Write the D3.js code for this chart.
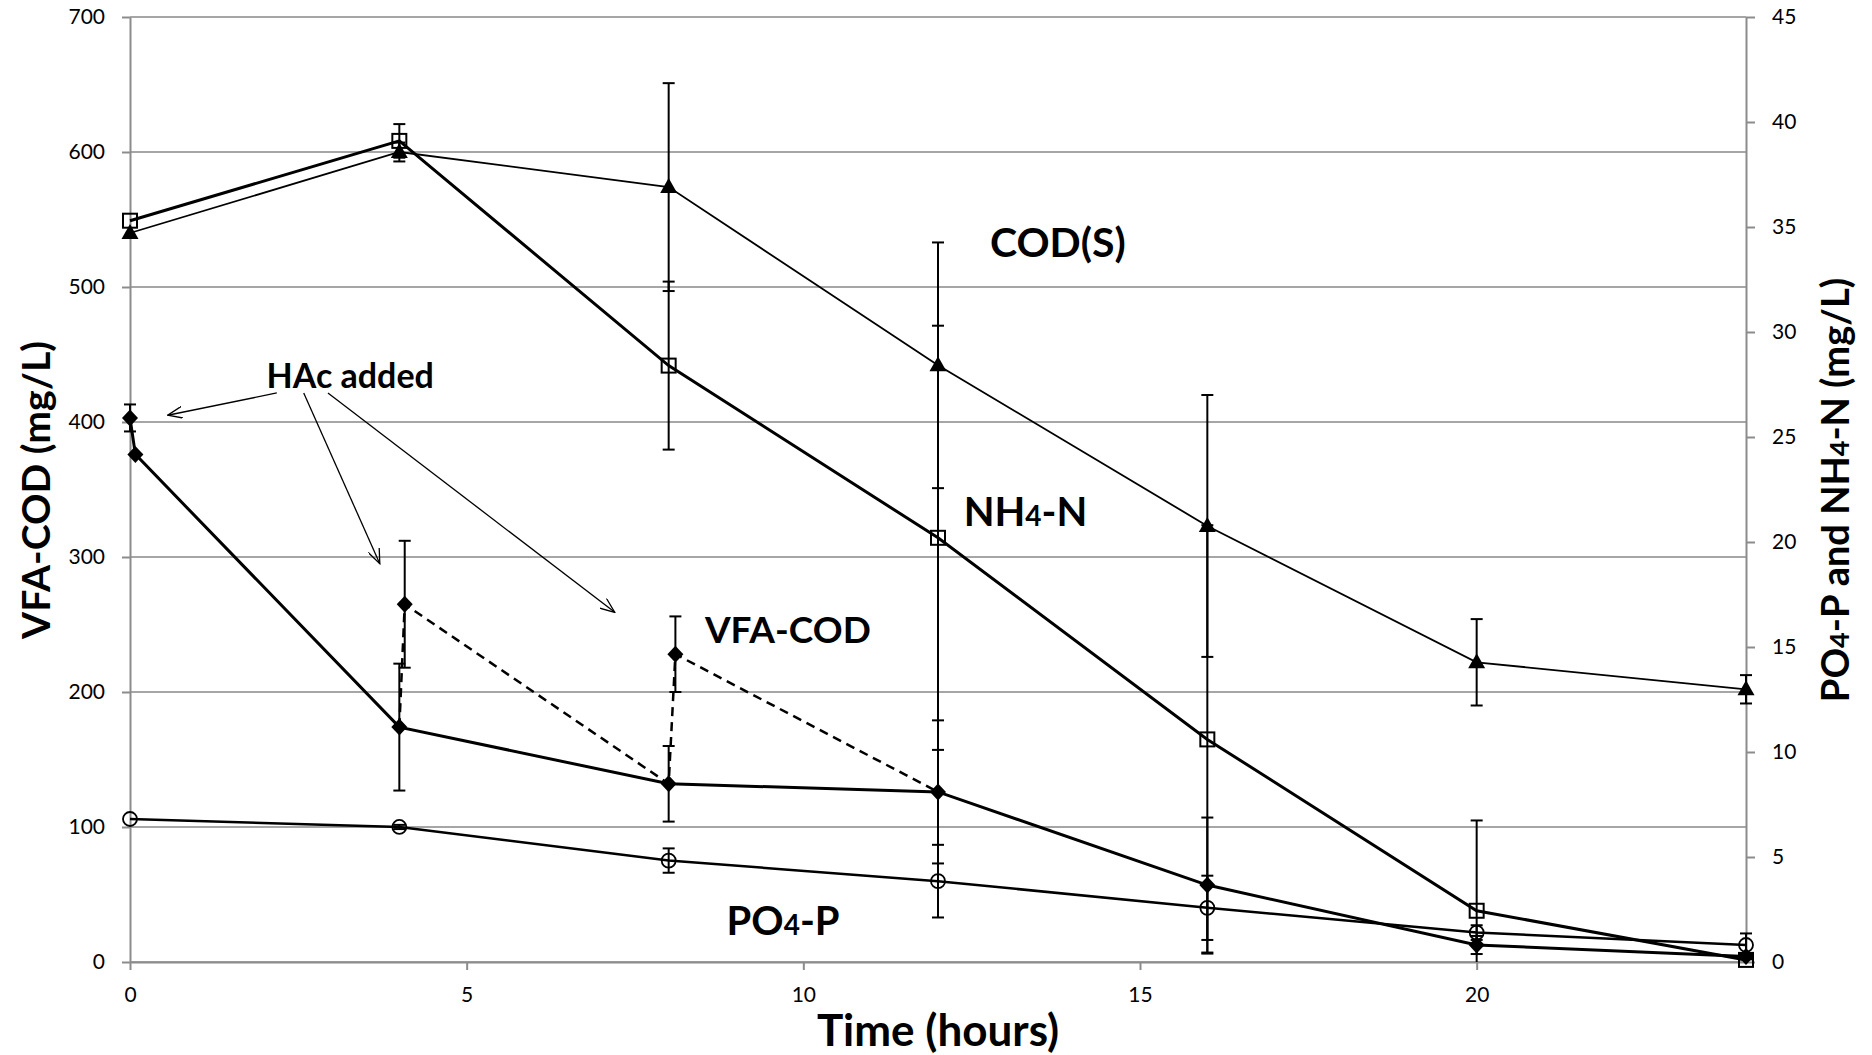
<!DOCTYPE html>
<html>
<head>
<meta charset="utf-8">
<script src="https://cdn.jsdelivr.net/npm/d3@7"></script>
<style>
  body { margin: 0; background: #fff; }
  .chart text { font-family: Lato, "Open Sans", sans-serif; fill: #000; }
  .axis path, .axis line { stroke: #8c8c8c; stroke-width: 2; }
  .axis text { font-size: 21px; }
  .grid line { stroke: #a6a6a6; stroke-width: 2; }
  .lbl { font-weight: bold; }
</style>
</head>
<body>
<div class="chart"></div>
<script>
// Time points (hours)
var hours = [0, 4, 8, 12, 16, 20, 24];

// COD(S), left axis (mg/L)
var codS = [540, 600, 574, 442, 323, 222, 202];
var codSErr = [0, 7, 77, 91, 97, 32, 10.5];

// NH4-N, right axis (mg/L)
var nh4 = [35.3, 39.1, 28.4, 20.2, 10.6, 2.44, 0.1];
var nh4Err = [0, 0.8, 4.0, 10.1, 10.2, 4.3, 0.1];

// PO4-P, right axis (mg/L)
var po4 = [6.81, 6.43, 4.83, 3.85, 2.58, 1.4, 0.81];
var po4Err = [0, 0.1, 0.58, 1.73, 1.53, 0.35, 0.55];

// VFA-COD, left axis (mg/L)
var vfaHours = [0, 0.08, 4, 8, 12, 16, 20, 24];
var vfa = [403, 376, 174, 132, 126, 57, 12.6, 4];
var vfaErr = [10, 0, 47, 28, 53, 50, 6.7, 2];

// VFA-COD right after HAc addition
var spikeHours = [4.08, 8.1];
var spikeVfa = [265, 228];
var spikeErr = [47, 28];

var leftTicks = [0, 100, 200, 300, 400, 500, 600, 700];
var rightTicks = [0, 5, 10, 15, 20, 25, 30, 35, 40, 45];
var xTicks = [0, 5, 10, 15, 20];

var svgWidth = 1872;
var svgHeight = 1055;
var margin = {top: 17, right: 126, bottom: 93, left: 130};
var width = svgWidth - margin.left - margin.right;
var height = svgHeight - margin.top - margin.bottom;

var svg = d3.select(".chart")
  .append("svg")
  .attr("width", svgWidth)
  .attr("height", svgHeight);

var chartGroup = svg.append("g")
  .attr("transform", `translate(${margin.left}, ${margin.top})`);

var x = d3.scaleLinear().domain([0, 24]).range([0, width]);
var yLeft = d3.scaleLinear().domain([0, 700]).range([height, 0]);
var yRight = d3.scaleLinear().domain([0, 45]).range([height, 0]);

// gridlines (left axis)
chartGroup.append("g")
  .attr("class", "grid")
  .selectAll("line")
  .data(leftTicks)
  .enter()
  .append("line")
  .attr("x1", 0)
  .attr("x2", width)
  .attr("y1", d => yLeft(d))
  .attr("y2", d => yLeft(d));

// axes
chartGroup.append("g")
  .attr("class", "axis")
  .call(d3.axisLeft(yLeft).tickValues(leftTicks).tickSize(8).tickSizeOuter(0).tickPadding(17));

chartGroup.append("g")
  .attr("class", "axis")
  .attr("transform", `translate(${width}, 0)`)
  .call(d3.axisRight(yRight).tickValues(rightTicks).tickSize(9).tickSizeOuter(0).tickPadding(17));

chartGroup.append("g")
  .attr("class", "axis")
  .attr("transform", `translate(0, ${height})`)
  .call(d3.axisBottom(x).tickValues(xTicks).tickSize(8).tickSizeOuter(0).tickPadding(17));

chartGroup.selectAll(".axis text").attr("fill", "#000");

// error bars
function errorBars(xs, ys, errs, yScale) {
  var g = chartGroup.append("g")
    .attr("stroke", "#000")
    .attr("stroke-width", 2);
  xs.forEach(function(t, i) {
    if (!errs[i]) return;
    var lo = Math.max(0, ys[i] - errs[i]);
    var hi = ys[i] + errs[i];
    var cx = x(t);
    g.append("line")
      .attr("x1", cx).attr("x2", cx)
      .attr("y1", yScale(lo)).attr("y2", yScale(hi));
    g.append("line")
      .attr("x1", cx - 6).attr("x2", cx + 6)
      .attr("y1", yScale(hi)).attr("y2", yScale(hi));
    if (lo > 0) {
      g.append("line")
        .attr("x1", cx - 6).attr("x2", cx + 6)
        .attr("y1", yScale(lo)).attr("y2", yScale(lo));
    }
  });
}

errorBars(hours, codS, codSErr, yLeft);
errorBars(hours, nh4, nh4Err, yRight);
errorBars(hours, po4, po4Err, yRight);
errorBars(vfaHours, vfa, vfaErr, yLeft);
errorBars(spikeHours, spikeVfa, spikeErr, yLeft);

// lines
function drawLine(xs, ys, yScale, w, dash) {
  var line = d3.line()
    .x(d => x(d[0]))
    .y(d => yScale(d[1]));
  chartGroup.append("path")
    .datum(xs.map((t, i) => [t, ys[i]]))
    .attr("fill", "none")
    .attr("stroke", "#000")
    .attr("stroke-width", w)
    .attr("stroke-dasharray", dash || null)
    .attr("d", line);
}

// dashed path: after each HAc addition
var dashHours = [vfaHours[2], spikeHours[0], vfaHours[3], spikeHours[1], vfaHours[4]];
var dashVfa = [vfa[2], spikeVfa[0], vfa[3], spikeVfa[1], vfa[4]];
drawLine(dashHours, dashVfa, yLeft, 2.5, "9,6");

drawLine(hours, codS, yLeft, 1.8);
drawLine(hours, nh4, yRight, 3);
drawLine(hours, po4, yRight, 2.5);
drawLine(vfaHours, vfa, yLeft, 3);

// markers
var marks = chartGroup.append("g");

// COD(S): filled triangles
marks.selectAll(".tri")
  .data(hours.map((t, i) => [t, codS[i]]))
  .enter()
  .append("path")
  .attr("transform", d => `translate(${x(d[0])}, ${yLeft(d[1])})`)
  .attr("d", "M0,-9 L8.5,6 L-8.5,6 Z")
  .attr("fill", "#000");

// NH4-N: open squares
marks.selectAll(".sq")
  .data(hours.map((t, i) => [t, nh4[i]]))
  .enter()
  .append("rect")
  .attr("x", d => x(d[0]) - 7)
  .attr("y", d => yRight(d[1]) - 7)
  .attr("width", 14)
  .attr("height", 14)
  .attr("fill", "none")
  .attr("stroke", "#000")
  .attr("stroke-width", 2);

// PO4-P: open circles
marks.selectAll(".circ")
  .data(hours.map((t, i) => [t, po4[i]]))
  .enter()
  .append("circle")
  .attr("cx", d => x(d[0]))
  .attr("cy", d => yRight(d[1]))
  .attr("r", 7)
  .attr("fill", "none")
  .attr("stroke", "#000")
  .attr("stroke-width", 1.8);

// VFA-COD: filled diamonds
var diamonds = vfaHours.map((t, i) => [t, vfa[i]])
  .concat(spikeHours.map((t, i) => [t, spikeVfa[i]]));
marks.selectAll(".dia")
  .data(diamonds)
  .enter()
  .append("path")
  .attr("transform", d => `translate(${x(d[0])}, ${yLeft(d[1])})`)
  .attr("d", "M0,-8.5 L8,0 L0,8.5 L-8,0 Z")
  .attr("fill", "#000");

// series labels (placed in data units)
function label(t, v, size, parts) {
  var txt = chartGroup.append("text")
    .attr("class", "lbl")
    .attr("x", x(t))
    .attr("y", yLeft(v))
    .attr("text-anchor", "middle")
    .style("font-size", size + "px");
  parts.forEach(function(p) {
    if (p.sub) {
      txt.append("tspan").style("font-size", Math.round(size * 0.7) + "px").text(p.text);
    } else {
      txt.append("tspan").text(p.text);
    }
  });
  return txt;
}

label(13.78, 522, 41, [{text: "COD(S)"}]);
label(13.3, 323, 40, [{text: "NH"}, {text: "4", sub: true}, {text: "-N"}]);
label(9.77, 236, 37, [{text: "VFA-COD"}]);
label(9.7, 20, 40, [{text: "PO"}, {text: "4", sub: true}, {text: "-P"}]);
label(3.27, 425, 34, [{text: "HAc added"}]);

// arrows from "HAc added"
svg.append("defs")
  .append("marker")
  .attr("id", "arrowOpen")
  .attr("viewBox", "0 0 16 12")
  .attr("refX", 15)
  .attr("refY", 6)
  .attr("markerUnits", "userSpaceOnUse")
  .attr("markerWidth", 16)
  .attr("markerHeight", 12)
  .attr("orient", "auto")
  .append("path")
  .attr("d", "M0,0 L15,6 L0,12")
  .attr("fill", "none")
  .attr("stroke", "#000")
  .attr("stroke-width", 1.3);

var arrows = [
  [[2.18, 421.5], [0.56, 405]],
  [[2.58, 421.5], [3.71, 295]],
  [[2.94, 421.5], [7.2, 259]]
];
chartGroup.selectAll(".arrow")
  .data(arrows)
  .enter()
  .append("line")
  .attr("x1", d => x(d[0][0]))
  .attr("y1", d => yLeft(d[0][1]))
  .attr("x2", d => x(d[1][0]))
  .attr("y2", d => yLeft(d[1][1]))
  .attr("stroke", "#000")
  .attr("stroke-width", 1.3)
  .attr("marker-end", "url(#arrowOpen)");

// axis titles
chartGroup.append("text")
  .attr("class", "lbl")
  .attr("x", width / 2)
  .attr("y", height + 84)
  .attr("text-anchor", "middle")
  .style("font-size", "44px")
  .text("Time (hours)");

svg.append("text")
  .attr("class", "lbl")
  .attr("transform", "translate(50, 490) rotate(-90)")
  .attr("text-anchor", "middle")
  .attr("textLength", 298)
  .attr("lengthAdjust", "spacingAndGlyphs")
  .style("font-size", "38px")
  .text("VFA-COD (mg/L)");

var rt = svg.append("text")
  .attr("class", "lbl")
  .attr("transform", "translate(1849, 490) rotate(-90)")
  .attr("text-anchor", "middle")
  .style("font-size", "38px");
rt.append("tspan").text("PO");
rt.append("tspan").style("font-size", "27px").text("4");
rt.append("tspan").text("-P and NH");
rt.append("tspan").style("font-size", "27px").text("4");
rt.append("tspan").text("-N (mg/L)");
</script>
</body>
</html>
